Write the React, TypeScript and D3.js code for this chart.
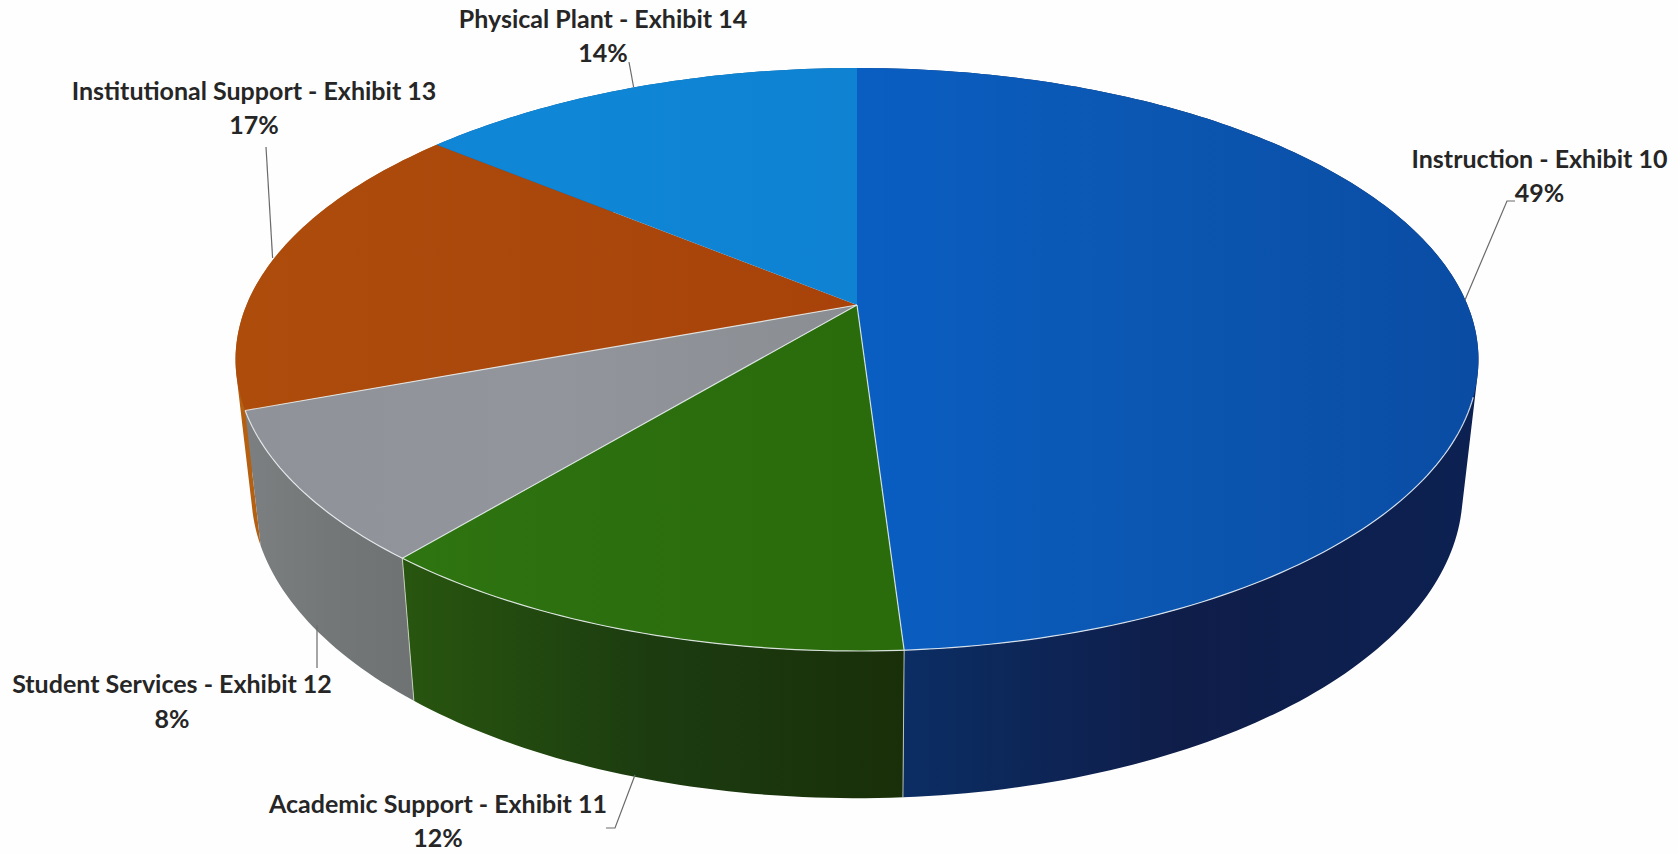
import React from "react";
import * as d3 from "d3";

// Data, in drawing order clockwise from twelve o'clock
const categories = [
  "Instruction - Exhibit 10",
  "Academic Support - Exhibit 11",
  "Student Services - Exhibit 12",
  "Institutional Support - Exhibit 13",
  "Physical Plant - Exhibit 14",
];
const shares = [49, 12, 8.3, 16.7, 14];

// Colours
const topStops = [
  ["#0a5ec2", "#0b56b0", "#0a4ca4"],
  ["#2f7a10", "#2d7010", "#2a6c0c"],
  ["#8f9399", "#92959b", "#8a8d92"],
  ["#ae4c0c", "#aa480c", "#a8420a"],
  ["#1184d8", "#0f86d6", "#0f82d2"],
];
const wallStops = [
  ["#0b2f66", "#0f1d49", "#0c2152"],
  ["#28560f", "#1c3c10", "#192f09"],
  ["#7c8082", "#737777", "#6e7272"],
  ["#b55f10", "#b55f10", "#b55f10"],
  ["#0b5a96", "#0b5a96", "#0b5a96"],
];

// Label layout
const labelAt = [
  { x: 1539.5, y: 168, py: 202 },
  { x: 438, y: 813, py: 847 },
  { x: 172, y: 693, py: 728 },
  { x: 254, y: 100, py: 134 },
  { x: 603, y: 28, py: 62 },
];
const leaders = [
  [[1465, 300], [1507, 201], [1515, 201]],
  [[635, 775], [615, 828], [606, 828]],
  [[317, 625], [317, 668]],
  [[266, 147], [272.6, 258]],
  [[633.6, 87], [629, 62]],
];

// Perspective view of a disc: top face and bottom face of the pie
const K = 0.187;
const cx = 857;
const topFace = { cy: 305, R: 610.5, S: 281.3 };
const botFace = { cy: 435, R: 595, S: 295.3 };

type Face = { cy: number; R: number; S: number };
const project = (f: Face, a: number): [number, number] => {
  const u = Math.sin(a);
  const v = -Math.cos(a);
  const d = 1 - K * v;
  return [cx + (f.R * u) / d, f.cy + (f.S * v) / d];
};

const STEP = Math.PI / 180;
const sampleAngles = (a0: number, a1: number) => {
  const n = Math.max(2, Math.ceil((a1 - a0) / STEP));
  return d3.range(n + 1).map((i) => a0 + ((a1 - a0) * i) / n);
};

const lineGen = d3.line<[number, number]>();

const arcs = d3
  .pie<number>()
  .sort(null)
  .value((d) => d)(shares);

const topPath = (a0: number, a1: number) => {
  const pts = sampleAngles(a0, a1).map((a) => project(topFace, a));
  return lineGen([[cx, topFace.cy], ...pts])! + "Z";
};

// The wall as quads that all wind the same way, so overlaps never cancel
const wallPath = (a0: number, a1: number) => {
  const as = sampleAngles(a0, a1);
  let d = "";
  for (let i = 0; i < as.length - 1; i++) {
    let q: [number, number][] = [
      project(topFace, as[i]),
      project(topFace, as[i + 1]),
      project(botFace, as[i + 1]),
      project(botFace, as[i]),
    ];
    if (d3.polygonArea(q) < 0) q = q.slice().reverse();
    d += lineGen(q)! + "Z";
  }
  return d;
};

const rimPath = (a0: number, a1: number) =>
  lineGen(sampleAngles(a0, a1).map((a) => project(topFace, a)))!;

const gradientRange = [
  [880, 1480],
  [400, 905],
  [240, 420],
  [230, 270],
  [430, 860],
];

export default function App() {
  const frontEnd = arcs[2].endAngle;
  const frontStart = (108 * Math.PI) / 180;
  return (
    <svg
      width={1678}
      height={854}
      viewBox="0 0 1678 854"
      style={{ position: "absolute", left: 0, top: 0, background: "#fefefe" }}
    >
      <defs>
        {arcs.map((_, i) => (
          <React.Fragment key={i}>
            <linearGradient
              id={`t${i}`}
              gradientUnits="userSpaceOnUse"
              x1={i === 0 ? 860 : 240}
              x2={i === 0 ? 1480 : 860}
              y1={0}
              y2={0}
            >
              {topStops[i].map((c, j) => (
                <stop key={j} offset={j / 2} stopColor={c} />
              ))}
            </linearGradient>
            <linearGradient
              id={`w${i}`}
              gradientUnits="userSpaceOnUse"
              x1={gradientRange[i][0]}
              x2={gradientRange[i][1]}
              y1={0}
              y2={0}
            >
              {wallStops[i].map((c, j) => (
                <stop key={j} offset={j / 2} stopColor={c} />
              ))}
            </linearGradient>
          </React.Fragment>
        ))}
      </defs>

      {/* walls, back to front */}
      {[4, 3, 0, 2, 1].map((i) => (
        <path
          key={i}
          d={wallPath(arcs[i].startAngle, arcs[i].endAngle)}
          fill={`url(#w${i})`}
        />
      ))}

      {/* vertical wall seams */}
      {[arcs[0].endAngle, arcs[1].endAngle].map((a, i) => {
        const p = project(topFace, a);
        const q = project(botFace, a);
        return (
          <line
            key={i}
            x1={p[0]}
            y1={p[1]}
            x2={q[0]}
            y2={q[1]}
            stroke="#d8e0d0"
            strokeOpacity={0.8}
            strokeWidth={1}
          />
        );
      })}

      {/* top faces */}
      {arcs.map((s, i) => (
        <path key={i} d={topPath(s.startAngle, s.endAngle)} fill={`url(#t${i})`} />
      ))}

      {/* pale spokes and front rim */}
      {[arcs[0].endAngle, arcs[1].endAngle, arcs[2].endAngle].map((a, i) => {
        const p = project(topFace, a);
        return (
          <line
            key={i}
            x1={cx}
            y1={topFace.cy}
            x2={p[0]}
            y2={p[1]}
            stroke="#e8eef0"
            strokeOpacity={0.85}
            strokeWidth={1.2}
          />
        );
      })}
      <path
        d={rimPath(frontStart, frontEnd)}
        fill="none"
        stroke="#eef3f6"
        strokeOpacity={0.85}
        strokeWidth={1.2}
      />

      {/* leader lines */}
      {leaders.map((pts, i) => (
        <path
          key={i}
          d={lineGen(pts as [number, number][])!}
          fill="none"
          stroke="#6a6a6a"
          strokeWidth={1.2}
        />
      ))}

      {/* labels */}
      <g
        fontFamily="Lato, 'Open Sans', sans-serif"
        fontWeight={700}
        fontSize={25}
        fill="#262626"
        textAnchor="middle"
      >
        {categories.map((c, i) => (
          <React.Fragment key={c}>
            <text x={labelAt[i].x} y={labelAt[i].y}>
              {c}
            </text>
            <text x={labelAt[i].x} y={labelAt[i].py}>
              {d3.format(".0f")(shares[i]) + "%"}
            </text>
          </React.Fragment>
        ))}
      </g>
    </svg>
  );
}
